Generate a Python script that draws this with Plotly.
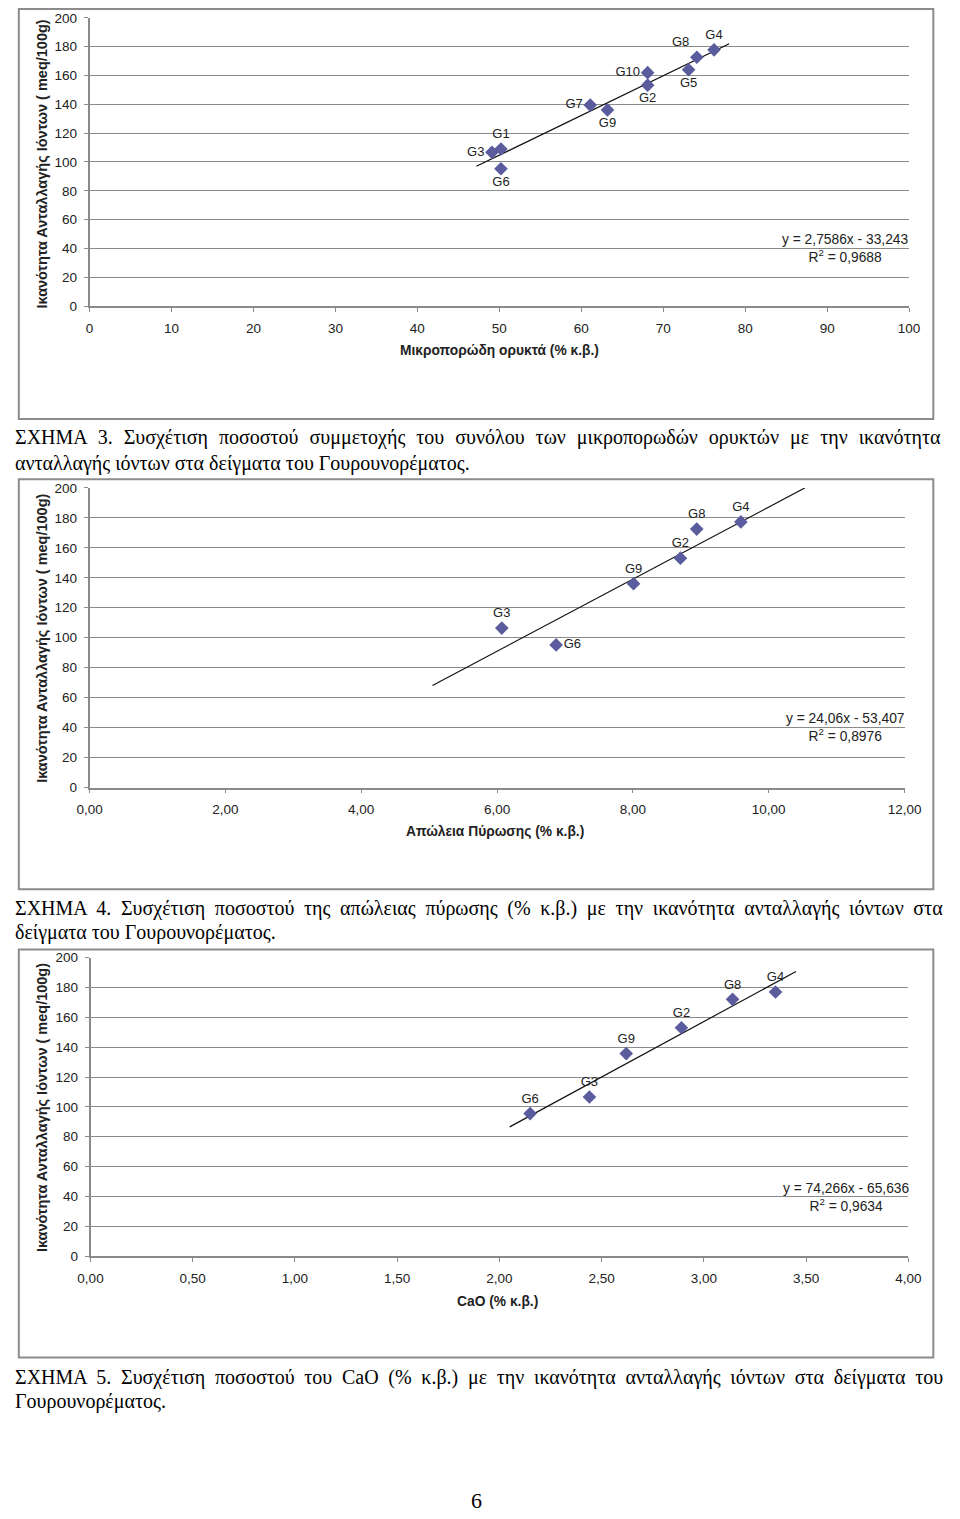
import plotly.graph_objects as go

# ---------------- data ----------------
# Chart 1: micro-porous minerals (%) vs CEC
c1_labels = ["G3", "G1", "G6", "G7", "G9", "G10", "G2", "G5", "G8", "G4"]
c1_x = [49.1, 50.2, 50.2, 61.1, 63.2, 68.1, 68.1, 73.1, 74.1, 76.2]
c1_y = [106.7, 109.0, 95.3, 139.5, 136.1, 162.0, 153.3, 164.0, 172.7, 177.8]
c1_slope, c1_intercept = 2.7586, -33.243
c1_trend_x = [47.2, 78.05]
c1_eq = "y = 2,7586x - 33,243<br>R<sup>2</sup> = 0,9688"
c1_xticks = [0, 10, 20, 30, 40, 50, 60, 70, 80, 90, 100]
c1_xticktext = ["0", "10", "20", "30", "40", "50", "60", "70", "80", "90", "100"]
c1_xtitle = "Μικροπορώδη ορυκτά (% κ.β.)"

# Chart 2: loss on ignition (%) vs CEC
c2_labels = ["G3", "G6", "G9", "G2", "G8", "G4"]
c2_x = [6.07, 6.87, 8.01, 8.70, 8.94, 9.59]
c2_y = [106.4, 95.2, 136.1, 153.1, 172.5, 177.3]
c2_slope, c2_intercept = 24.06, -53.407
c2_trend_x = [5.05, 10.53]
c2_eq = "y = 24,06x - 53,407<br>R<sup>2</sup> = 0,8976"
c2_xticks = [0, 2, 4, 6, 8, 10, 12]
c2_xticktext = ["0,00", "2,00", "4,00", "6,00", "8,00", "10,00", "12,00"]
c2_xtitle = "Απώλεια Πύρωσης (% κ.β.)"

# Chart 3: CaO (%) vs CEC
c3_labels = ["G6", "G3", "G9", "G2", "G8", "G4"]
c3_x = [2.15, 2.44, 2.62, 2.89, 3.14, 3.35]
c3_y = [95.5, 106.6, 135.7, 153.0, 172.0, 176.9]
c3_slope, c3_intercept = 74.266, -65.636
c3_trend_x = [2.05, 3.45]
c3_eq = "y = 74,266x - 65,636<br>R<sup>2</sup> = 0,9634"
c3_xticks = [0, 0.5, 1, 1.5, 2, 2.5, 3, 3.5, 4]
c3_xticktext = ["0,00", "0,50", "1,00", "1,50", "2,00", "2,50", "3,00", "3,50", "4,00"]
c3_xtitle = "CaO (% κ.β.)"

y_ticks = [0, 20, 40, 60, 80, 100, 120, 140, 160, 180, 200]
y_ticktext = ["0", "20", "40", "60", "80", "100", "120", "140", "160", "180", "200"]
y_title = "Ικανότητα Ανταλλαγής Ιόντων ( meq/100g)"

captions = [
    ["ΣΧΗΜΑ 3. Συσχέτιση ποσοστού συμμετοχής του συνόλου των μικροπορωδών ορυκτών με την ικανότητα",
     "ανταλλαγής ιόντων στα δείγματα του Γουρουνορέματος."],
    ["ΣΧΗΜΑ 4. Συσχέτιση ποσοστού της απώλειας πύρωσης (% κ.β.) με την ικανότητα ανταλλαγής ιόντων στα",
     "δείγματα του Γουρουνορέματος."],
    ["ΣΧΗΜΑ 5. Συσχέτιση ποσοστού του CaO (% κ.β.) με την ικανότητα ανταλλαγής ιόντων στα δείγματα του",
     "Γουρουνορέματος."],
]
page_number = "6"

# ---------------- styling / layout ----------------
W, H = 960, 1519
def px(xp):
    return xp / W
def py(yp):
    return 1 - yp / H

MARKER = "#5b5c9d"
GRID = "#8a8a8a"
SANS = "Liberation Sans, Arial, sans-serif"
SERIF = "Liberation Serif, Times New Roman, serif"

charts = [
    dict(labels=c1_labels, x=c1_x, y=c1_y, slope=c1_slope, icpt=c1_intercept, tx=c1_trend_x,
         eq=c1_eq, xticks=c1_xticks, xtt=c1_xticktext, xtitle=c1_xtitle, xrange=[0, 100],
         plot=(79, 925, 11, 302), box=(6, 950, 2, 416),
         pos=["middle left", "top center", "bottom center", "middle left", "bottom center",
              "middle left", "bottom center", "bottom center", "top left", "top center"],
         eqpos=(859, 244), xtitle_pos=(502, 347), ytitle_pos=(30, 159)),
    dict(labels=c2_labels, x=c2_x, y=c2_y, slope=c2_slope, icpt=c2_intercept, tx=c2_trend_x,
         eq=c2_eq, xticks=c2_xticks, xtt=c2_xticktext, xtitle=c2_xtitle, xrange=[0, 12],
         plot=(79, 920.3, 485.7, 788.3), box=(6, 950, 477, 891),
         pos=["top center", "middle right", "top center", "top center", "top center", "top center"],
         eqpos=(859, 728), xtitle_pos=(498, 833), ytitle_pos=(30, 638)),
    dict(labels=c3_labels, x=c3_x, y=c3_y, slope=c3_slope, icpt=c3_intercept, tx=c3_trend_x,
         eq=c3_eq, xticks=c3_xticks, xtt=c3_xticktext, xtitle=c3_xtitle, xrange=[0, 4],
         plot=(80, 924.3, 960, 1261.7), box=(6, 950, 952, 1364),
         pos=["top center"] * 6,
         eqpos=(860, 1202), xtitle_pos=(500, 1307), ytitle_pos=(30, 1112)),
]

fig = go.Figure()
shapes = []
annotations = []
layout_axes = {}

for i, c in enumerate(charts, start=1):
    xa = "x" if i == 1 else f"x{i}"
    ya = "y" if i == 1 else f"y{i}"
    xl, xr, yt, yb = c["plot"]
    # trendline (from the displayed regression equation)
    ty = [c["slope"] * v + c["icpt"] for v in c["tx"]]
    fig.add_trace(go.Scatter(x=c["tx"], y=ty, mode="lines", xaxis=xa, yaxis=ya,
                             line=dict(color="#111111", width=1.2),
                             hoverinfo="skip", cliponaxis=False))
    # points
    fig.add_trace(go.Scatter(x=c["x"], y=c["y"], mode="markers+text", text=c["labels"],
                             textposition=c["pos"], xaxis=xa, yaxis=ya,
                             marker=dict(symbol="diamond", size=10.5, color=MARKER),
                             textfont=dict(family=SANS, size=13, color="#222222"),
                             cliponaxis=False))
    xkey = "xaxis" if i == 1 else f"xaxis{i}"
    ykey = "yaxis" if i == 1 else f"yaxis{i}"
    layout_axes[xkey] = dict(domain=[px(xl), px(xr)], anchor=ya, range=c["xrange"],
                             tickmode="array", tickvals=c["xticks"], ticktext=c["xtt"],
                             showgrid=False, zeroline=False, showline=True, linecolor=GRID,
                             linewidth=1.5, ticks="outside", ticklen=4, tickcolor=GRID,
                             tickfont=dict(family=SANS, size=13.5, color="#222222"),
                             ticklabelstandoff=5, fixedrange=True)
    layout_axes[ykey] = dict(domain=[py(yb), py(yt)], anchor=xa, range=[0, 200],
                             tickmode="array", tickvals=y_ticks, ticktext=y_ticktext,
                             showgrid=True, gridcolor=GRID, gridwidth=1.2, zeroline=False,
                             showline=True, linecolor=GRID, linewidth=1.5,
                             ticks="outside", ticklen=4, tickcolor=GRID,
                             tickfont=dict(family=SANS, size=13.5, color="#222222"),
                             ticklabelstandoff=4, fixedrange=True)
    # outer chart box
    bl, br, bt, bb = c["box"]
    shapes.append(dict(type="rect", xref="paper", yref="paper", x0=px(bl), x1=px(br),
                       y0=py(bb), y1=py(bt), line=dict(color="#8c8c8c", width=2)))
    # equation
    ex, ey = c["eqpos"]
    annotations.append(dict(xref="paper", yref="paper", x=px(ex), y=py(ey), text=c["eq"],
                            showarrow=False, align="center", xanchor="center", yanchor="middle",
                            font=dict(family=SANS, size=13.8, color="#222222")))
    # axis titles
    tx_, ty_ = c["xtitle_pos"]
    annotations.append(dict(xref="paper", yref="paper", x=px(tx_), y=py(ty_),
                            text=f"<b>{c['xtitle']}</b>", showarrow=False,
                            xanchor="center", yanchor="middle",
                            font=dict(family=SANS, size=13.8, color="#222222")))
    yx, yy = c["ytitle_pos"]
    annotations.append(dict(xref="paper", yref="paper", x=px(yx), y=py(yy),
                            text=f"<b>{y_title}</b>", showarrow=False, textangle=-90,
                            xanchor="center", yanchor="middle",
                            font=dict(family=SANS, size=14.5, color="#222222")))

# captions (first line justified via word spacing)
cap_y = [(435, 461), (910, 935), (1384, 1408)]
cap_wordspacing = [6.0, 4.64, 4.7]
for (l1, l2), (y1, y2), ws in zip(captions, cap_y, cap_wordspacing):
    annotations.append(dict(xref="paper", yref="paper", x=0, y=py(y1), xanchor="left",
                            yanchor="middle", showarrow=False,
                            text=f"<span style='word-spacing:{ws}px'>{l1}</span>",
                            font=dict(family=SERIF, size=20, color="#000000")))
    annotations.append(dict(xref="paper", yref="paper", x=0, y=py(y2), xanchor="left",
                            yanchor="middle", showarrow=False, text=l2,
                            font=dict(family=SERIF, size=20, color="#000000")))

annotations.append(dict(xref="paper", yref="paper", x=px(478), y=py(1508), xanchor="center",
                        yanchor="middle", showarrow=False, text=page_number,
                        font=dict(family=SERIF, size=22, color="#000000")))

fig.update_layout(width=W, height=H, margin=dict(l=0, r=0, t=0, b=0),
                  paper_bgcolor="white", plot_bgcolor="white", showlegend=False,
                  shapes=shapes, annotations=annotations, **layout_axes)

fig.write_html("out.html")
